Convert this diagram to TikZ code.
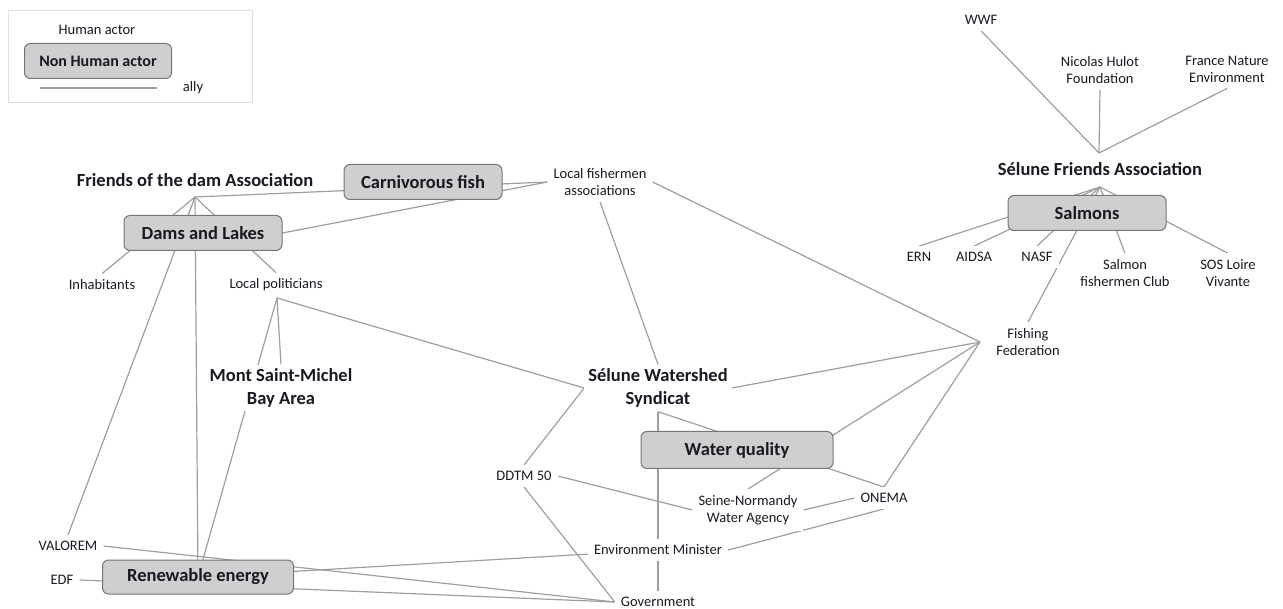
\documentclass[tikz,border=0pt]{standalone}
\usepackage{fontspec}
\setmainfont{Carlito}
\usetikzlibrary{backgrounds}
\definecolor{boxfill}{RGB}{208,206,206}
\definecolor{boxline}{RGB}{118,118,118}
\definecolor{linkgray}{RGB}{158,158,158}
\definecolor{inkcol}{RGB}{25,25,35}
\tikzset{
  actor/.style={fill=white, inner sep=6pt, align=center, text=inkcol, font=\fontsize{14.5}{17}\selectfont},
  collective/.style={actor, inner sep=4pt, font=\fontsize{18.5}{23}\selectfont\bfseries},
  thing/.style={draw=boxline, line width=1pt, fill=boxfill, rounded corners=6pt, text=inkcol, minimum width=158pt, minimum height=35pt, font=\fontsize{18.5}{22}\selectfont\bfseries},
  tie/.style={draw=linkgray, line width=1.2pt}
}
\begin{document}
\begin{tikzpicture}[x=1pt,y=-1pt]
\useasboundingbox (0,0) rectangle (1283,609);
% legend
\draw[gray!25, line width=0.8pt] (8,10) rectangle (252,102);
\node[actor] (leghuman) at (97,30) {Human actor};
\node[thing, minimum width=147pt, font=\fontsize{16}{19}\selectfont\bfseries] (legthing) at (98,61) {Non Human actor};
\coordinate (legA) at (40,88);
\coordinate (legB) at (157,88);
\draw[tie] (legA) -- (legB);
\node[actor] (legally) at (193,88) {ally};
% hubs
\coordinate (sfatop) at (1099,153);
\coordinate (sfahub) at (1100,187);
\coordinate (fodhub) at (195,197);
\coordinate (lphub) at (277,298);
\coordinate (fedhub) at (980,342);
% actors
\node[actor] (wwf) at (981,20) {WWF};
\node[actor] (hulot) at (1100,70) {Nicolas Hulot\\Foundation};
\node[actor] (fne) at (1227,69) {France Nature\\Environment};
\node[collective] (sfa) at (1100,169) {Sélune Friends Association};
\node[thing] (salmons) at (1087,213) {Salmons};
\node[actor] (ern) at (919,257) {ERN};
\node[actor] (aidsa) at (974,257) {AIDSA};
\node[actor] (nasf) at (1037,257) {NASF};
\node[actor] (club) at (1125,273) {Salmon\\fishermen Club};
\node[actor] (sos) at (1228,273) {SOS Loire\\Vivante};
\node[actor] (fishfed) at (1028,342) {Fishing\\Federation};
\node[collective] (fod) at (195,180) {Friends of the dam Association};
\node[thing] (fish) at (423,182) {Carnivorous fish};
\node[actor] (fishers) at (600,182) {Local fishermen\\associations};
\node[thing] (dams) at (203,233) {Dams and Lakes};
\node[actor] (inhab) at (102,285) {Inhabitants};
\node[actor] (pol) at (276,285) {Local politicians};
\node[collective] (msm) at (281,388) {Mont Saint-Michel\\Bay Area};
\node[collective] (syndicat) at (658,388) {Sélune Watershed\\Syndicat};
\node[thing, minimum width=192pt, minimum height=37pt] (wq) at (737,450) {Water quality};
\node[actor] (ddtm) at (524,476) {DDTM 50};
\node[actor] (seine) at (748,510) {Seine-Normandy\\Water Agency};
\node[actor] (onema) at (884,498) {ONEMA};
\node[actor] (envmin) at (658,550) {Environment Minister};
\node[actor] (government) at (658,602) {Government};
\node[actor] (valorem) at (68,546) {VALOREM};
\node[actor] (edf) at (62,580) {EDF};
\node[thing, minimum width=191pt, minimum height=34pt] (renew) at (198,577) {Renewable energy};
% allies
\begin{scope}[on background layer]
\draw[tie] (wwf.south) -- (sfatop);
\draw[tie] (hulot.south) -- (sfatop);
\draw[tie] (fne.south) -- (sfatop);
\foreach \n in {ern,aidsa,nasf,club,sos,fishfed}
  \draw[tie] (sfahub) -- (\n.north);
\foreach \n in {inhab,valorem,pol}
  \draw[tie] (fodhub) -- (\n.north);
\draw[tie] (fodhub) -- (renew);
\draw[tie] (fodhub) -- (fishers.west);
\draw[tie] (dams.east) -- (fishers.west);
\draw[tie] (lphub) -- (msm.north);
\draw[tie] (lphub) -- (renew);
\draw[tie] (lphub) -- (syndicat.west) -- (ddtm.north);
\draw[tie] (fishers.south) -- (syndicat.north);
\foreach \n in {fishers.east,syndicat.east,seine.north,onema.north}
  \draw[tie] (\n) -- (fedhub);
\draw[tie] (syndicat.south) -- (onema.north);
\draw[tie] (syndicat.south) -- (government.north);
\draw[tie] (ddtm.east) -- (seine.west);
\draw[tie] (ddtm.south) -- (government.west);
\draw[tie] (onema.west) -- (seine.east);
\draw[tie] (onema.south) -- (envmin.east);
\draw[tie] (envmin) -- (renew);
\draw[tie] (valorem.east) -- (government.west);
\draw[tie] (edf.east) -- (government.west);
\end{scope}
\end{tikzpicture}
\end{document}
